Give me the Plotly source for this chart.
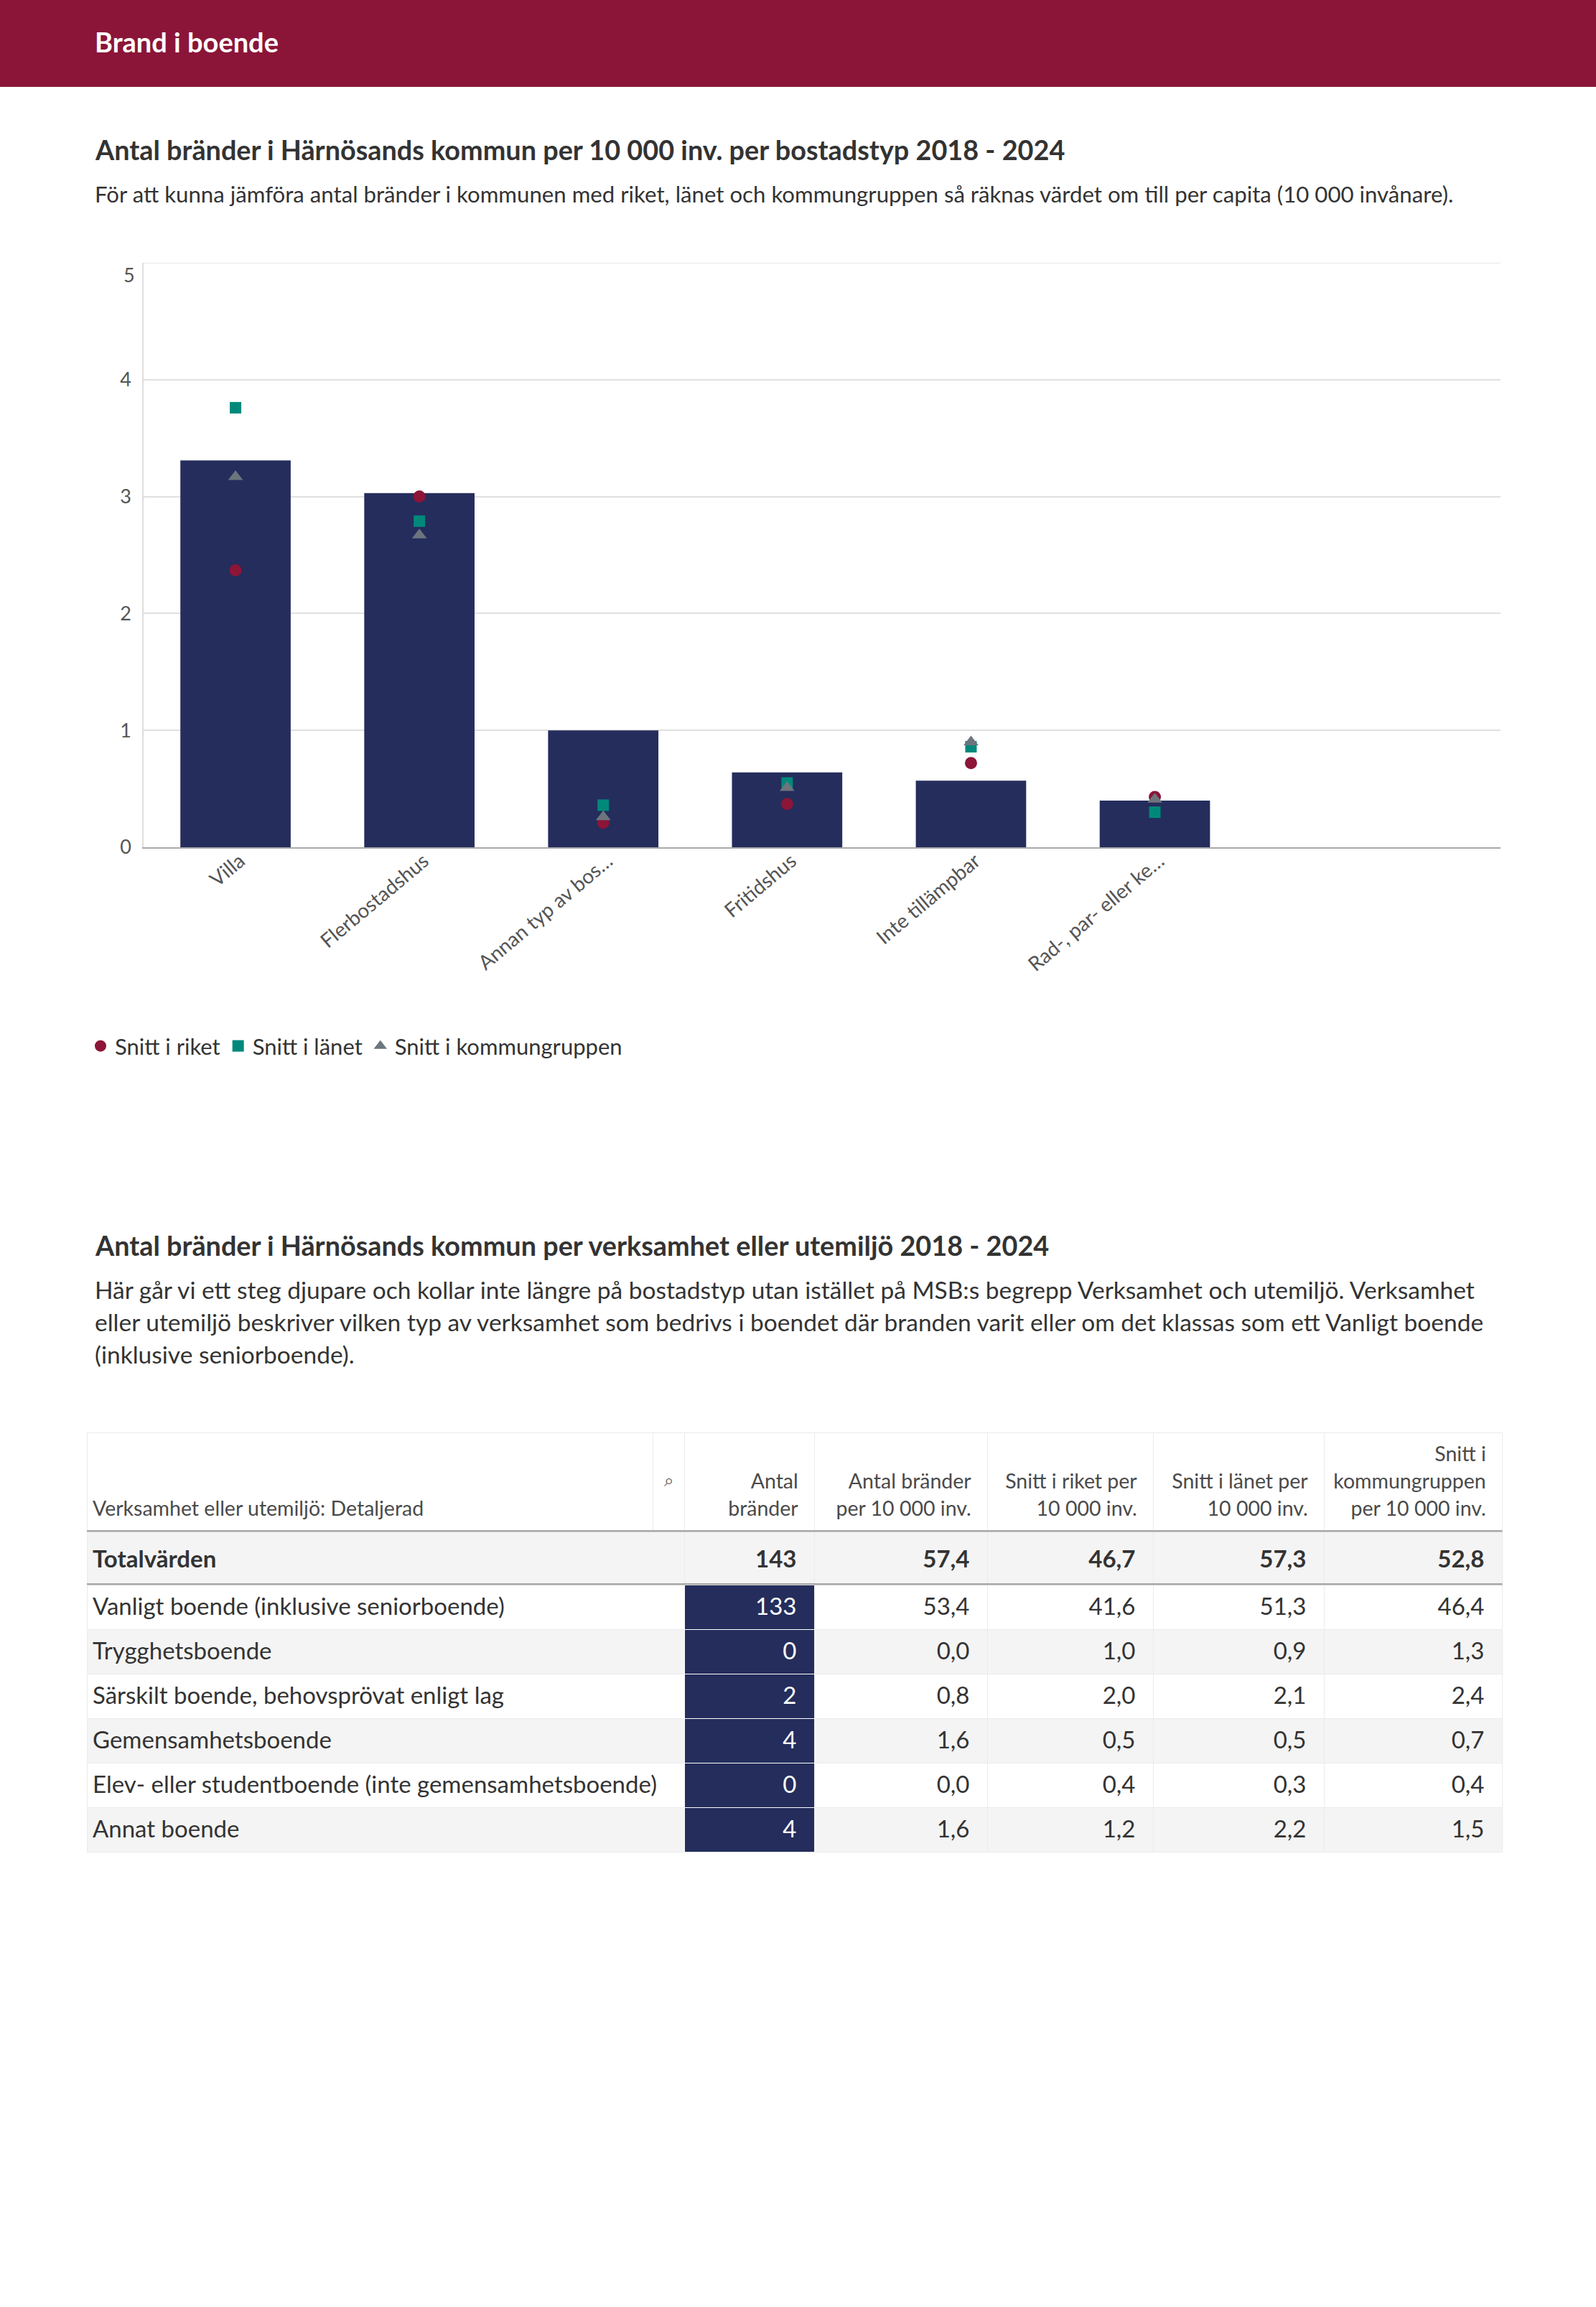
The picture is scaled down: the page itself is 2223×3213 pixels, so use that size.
import plotly.graph_objects as go

W, H = 2223, 3213

# ---------------- data ----------------
categories = ["Villa", "Flerbostadshus", "Annan typ av bos…", "Fritidshus",
              "Inte tillämpbar", "Rad-, par- eller ke…"]
kommun_values = [3.31, 3.03, 1.00, 0.64, 0.57, 0.40]
riket_values = [2.37, 3.00, 0.21, 0.37, 0.72, 0.43]
lanet_values = [3.76, 2.79, 0.36, 0.55, 0.86, 0.30]
kommungrupp_values = [3.17, 2.67, 0.26, 0.51, 0.90, 0.41]
y_ticks = [0, 1, 2, 3, 4, 5]
y_tick_labels = ["0", "1", "2", "3", "4", "5"]

table_headers = ["Verksamhet eller utemiljö: Detaljerad", "Antal<br>bränder",
                 "Antal bränder<br>per 10 000 inv.", "Snitt i riket per<br>10 000 inv.",
                 "Snitt i länet per<br>10 000 inv.", "Snitt i<br>kommungruppen<br>per 10 000 inv."]
total_label = "Totalvärden"
total_values = [143, 57.4, 46.7, 57.3, 52.8]
row_labels = ["Vanligt boende (inklusive seniorboende)", "Trygghetsboende",
              "Särskilt boende, behovsprövat enligt lag", "Gemensamhetsboende",
              "Elev- eller studentboende (inte gemensamhetsboende)", "Annat boende"]
antal = [133, 0, 2, 4, 0, 4]
antal_per = [53.4, 0.0, 0.8, 1.6, 0.0, 1.6]
riket_per = [41.6, 1.0, 2.0, 0.5, 0.4, 1.2]
lanet_per = [51.3, 0.9, 2.1, 0.5, 0.3, 2.2]
kgrupp_per = [46.4, 1.3, 2.4, 0.7, 0.4, 1.5]

# ---------------- styling ----------------
FONT = "Lato, 'Open Sans', sans-serif"
TXT = "#333333"
HDRTXT = "#4a4a4a"
NAVY = "#242d5c"
RED = "#8c1538"
TEAL = "#00897b"
GREY = "#6c757d"
HEADER_BG = "#8b1538"
ROWGREY = "#f4f4f4"
LINE = "#ebebeb"
DARKLINE = "#a8a8a8"
GRID = "#e0e0e0"
CLEAR = "rgba(0,0,0,0)"


def py(p):
    return 1 - p / H


def px(p):
    return p / W


def sv(v):
    return f"{v:.1f}".replace(".", ",")


PAD = "\u2002"

fig = go.Figure()

fig.add_trace(go.Bar(x=categories, y=kommun_values, marker=dict(color=NAVY, line=dict(width=0)),
                     width=0.6, showlegend=False, hoverinfo="x+y"))
fig.add_trace(go.Scatter(x=categories, y=riket_values, mode="markers", name="Snitt i riket",
                         marker=dict(symbol="circle", size=17, color=RED)))
fig.add_trace(go.Scatter(x=categories, y=lanet_values, mode="markers", name="Snitt i länet",
                         marker=dict(symbol="square", size=16, color=TEAL)))
fig.add_trace(go.Scatter(x=categories, y=kommungrupp_values, mode="markers", name="Snitt i kommungruppen",
                         marker=dict(symbol="triangle-up", size=18, color=GREY)))

# ---------------- table ----------------
tx0, tx1 = px(121), px(2092)
w_head = [788, 44, 181, 241, 231, 238, 248]
w_body = [832, 181, 241, 231, 238, 248]
nrow = len(row_labels)
ncol = len(w_body)

# --- background layer (fills and rules) ---
fig.add_trace(go.Table(
    domain=dict(x=[tx0, tx1], y=[py(1995 + 141), py(1995)]),
    columnwidth=w_head,
    header=dict(values=[""] * len(w_head), height=137, fill=dict(color="white"),
                line=dict(color=LINE, width=1), font=dict(size=2)),
    cells=dict(values=[]),
))
fig.add_trace(go.Table(
    domain=dict(x=[tx0, tx1], y=[py(2131 + 82), py(2131)]),
    columnwidth=w_body,
    header=dict(values=[""] * ncol, height=2, fill=dict(color=DARKLINE),
                line=dict(color=DARKLINE, width=0.5), font=dict(size=1)),
    cells=dict(values=[[""]] * ncol, height=74, fill=dict(color=ROWGREY),
               line=dict(color=LINE, width=1), font=dict(size=2)),
))
row_fill = ["white" if i % 2 == 0 else ROWGREY for i in range(nrow)]
fig.add_trace(go.Table(
    domain=dict(x=[tx0, tx1], y=[py(2205 + 390), py(2205)]),
    columnwidth=w_body,
    header=dict(values=[""] * ncol, height=2, fill=dict(color=DARKLINE),
                line=dict(color=DARKLINE, width=0.5), font=dict(size=1)),
    cells=dict(values=[[""] * nrow] * ncol, height=62,
               fill=dict(color=[row_fill, [NAVY] * nrow] + [row_fill] * 4),
               line=dict(color=[LINE, "white", LINE, LINE, LINE, LINE], width=1),
               font=dict(size=2)),
))

# --- text layer ---
hdr_lines = []
for h in table_headers:
    parts = h.split("<br>")
    parts = [""] * (3 - len(parts)) + parts
    hdr_lines.append([p + PAD if p else p for p in parts])
hdr_lines[0] = [p.strip(PAD) for p in hdr_lines[0]]
hdr_lines.insert(1, ["", "⌕", ""])
fig.add_trace(go.Table(
    domain=dict(x=[tx0, tx1], y=[py(2006 + 120), py(2006)]),
    columnwidth=w_head,
    header=dict(values=hdr_lines, height=38,
                align=["left", "center", "right", "right", "right", "right", "right"],
                fill=dict(color=CLEAR), line=dict(color=CLEAR, width=0),
                font=dict(family=FONT, size=[28.5, 24, 28.5, 28.5, 28.5, 28.5, 28.5],
                          color=[HDRTXT, "#555", HDRTXT, HDRTXT, HDRTXT, HDRTXT, HDRTXT])),
    cells=dict(values=[]),
))
fig.add_trace(go.Table(
    domain=dict(x=[tx0, tx1], y=[py(2140 + 82), py(2140)]),
    columnwidth=w_body,
    header=dict(values=[""] * ncol, height=2, fill=dict(color=CLEAR),
                line=dict(color=CLEAR, width=0), font=dict(size=1)),
    cells=dict(values=[["<b>" + total_label + "</b>"], ["<b>%d</b>" % total_values[0] + PAD]] +
                      [["<b>" + sv(v) + "</b>" + PAD] for v in total_values[1:]],
               height=74, align=["left"] + ["right"] * 5,
               fill=dict(color=CLEAR), line=dict(color=CLEAR, width=0),
               font=dict(family=FONT, size=33, color=TXT)),
))
fig.add_trace(go.Table(
    domain=dict(x=[tx0, tx1], y=[py(2214 + 390), py(2214)]),
    columnwidth=w_body,
    header=dict(values=[""] * ncol, height=2, fill=dict(color=CLEAR),
                line=dict(color=CLEAR, width=0), font=dict(size=1)),
    cells=dict(values=[row_labels,
                       [str(v) + PAD for v in antal],
                       [sv(v) + PAD for v in antal_per],
                       [sv(v) + PAD for v in riket_per],
                       [sv(v) + PAD for v in lanet_per],
                       [sv(v) + PAD for v in kgrupp_per]],
               height=62, align=["left"] + ["right"] * 5,
               fill=dict(color=CLEAR), line=dict(color=CLEAR, width=0),
               font=dict(family=FONT, size=33, color=[TXT, "white", TXT, TXT, TXT, TXT])),
))

# ---------------- layout ----------------
fig.update_layout(
    width=W, height=H, margin=dict(l=0, r=0, t=0, b=0, pad=0, autoexpand=False),
    paper_bgcolor="white", plot_bgcolor="white",
    font=dict(family=FONT, color=TXT),
    bargap=0.4,
    legend=dict(orientation="h", x=px(120), xanchor="left", y=py(1457), yanchor="middle",
                font=dict(size=31, color=TXT), bgcolor="rgba(0,0,0,0)", itemwidth=30,
                tracegroupgap=0),
    xaxis=dict(domain=[px(200), px(2090)], range=[-0.5, 6.88], showline=True, linecolor="#a9a9a9",
               linewidth=2, tickangle=-40, ticks="", tickfont=dict(size=28, color="#555"),
               ticklabelstandoff=-10, ticklabelshift=6,
               showgrid=False, zeroline=False, fixedrange=True, automargin=False),
    yaxis=dict(domain=[py(1180), py(366)], range=[0, 5], tickmode="array", tickvals=y_ticks,
               ticktext=y_tick_labels[:-1] + [""], showgrid=True, gridcolor=GRID,
               gridwidth=1.5, showline=True, linecolor="#dedede", linewidth=1.5, zeroline=False,
               ticks="", tickfont=dict(size=27, color="#555"), ticklabelstandoff=10, fixedrange=True,
               automargin=False),
    shapes=[dict(type="rect", xref="paper", yref="paper", x0=0, x1=1, y0=py(121), y1=1,
                 fillcolor=HEADER_BG, line=dict(width=0), layer="below"),
            # top gridline at the upper end of the value axis
            dict(type="line", xref="x domain", yref="y", x0=0, x1=1, y0=y_ticks[-1], y1=y_ticks[-1],
                 line=dict(color=GRID, width=1.5), layer="below")],
)

# top y tick label sits just below its gridline, as in the original
fig.add_annotation(text=y_tick_labels[-1], xref="paper", yref="y", x=px(200), y=y_ticks[-1],
                   xanchor="right", yanchor="middle", xshift=-10, yshift=-16, showarrow=False,
                   font=dict(size=27, color="#555", family=FONT))

ann = [
    ("<b>Brand i boende</b>", 58, 38, "white"),
    ("<b>Antal bränder i Härnösands kommun per 10 000 inv. per bostadstyp 2018 - 2024</b>", 208, 37.8, TXT),
    ("För att kunna jämföra antal bränder i kommunen med riket, länet och kommungruppen så räknas värdet om till per capita (10 000 invånare).", 270, 31.2, TXT),
    ("<b>Antal bränder i Härnösands kommun per verksamhet eller utemiljö 2018 - 2024</b>", 1734, 37.8, TXT),
    ("Här går vi ett steg djupare och kollar inte längre på bostadstyp utan istället på MSB:s begrepp Verksamhet och utemiljö. Verksamhet", 1796, 33.5, TXT),
    ("eller utemiljö beskriver vilken typ av verksamhet som bedrivs i boendet där branden varit eller om det klassas som ett Vanligt boende", 1841, 33.5, TXT),
    ("(inklusive seniorboende).", 1886, 33.5, TXT),
]
for text, ypx, size, col in ann:
    fig.add_annotation(text=text, xref="paper", yref="paper", x=px(130), y=py(ypx),
                       xanchor="left", yanchor="middle", showarrow=False,
                       font=dict(size=size, color=col, family=FONT))

fig.write_html("out.html", config={"displayModeBar": False},
               post_script="document.body.style.margin='0';document.body.style.overflow='hidden';")
